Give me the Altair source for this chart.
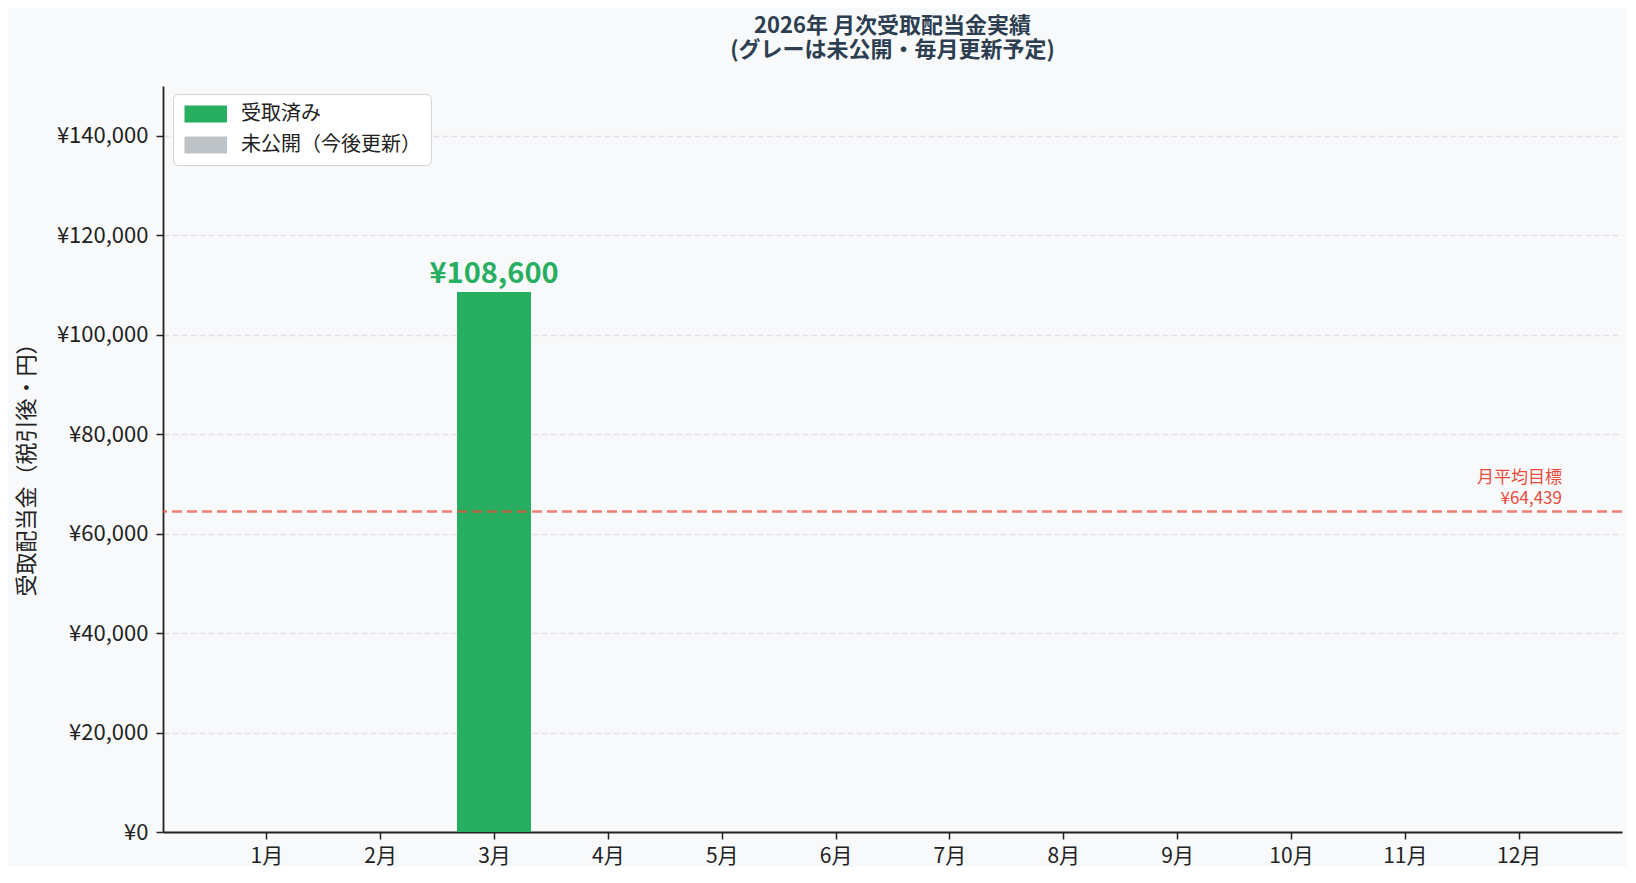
import altair as alt
import pandas as pd

# ---- data ----
months = list(range(1, 13))
amounts = [0, 0, 108600, 0, 0, 0, 0, 0, 0, 0, 0, 0]
status = ["受取済み", "受取済み", "受取済み",
          "未公開（今後更新）", "未公開（今後更新）", "未公開（今後更新）",
          "未公開（今後更新）", "未公開（今後更新）", "未公開（今後更新）",
          "未公開（今後更新）", "未公開（今後更新）", "未公開（今後更新）"]
status_domain = ["受取済み", "未公開（今後更新）"]
status_colors = ["#27ae60", "#bdc3c7"]
target_value = 64439
target_label = ["月平均目標", "¥64,439"]
target_label_x = 12.38
y_ticks = [0, 20000, 40000, 60000, 80000, 100000, 120000, 140000]

df = pd.DataFrame({"month": months, "amount": amounts, "status": status})
target_df = pd.DataFrame({"y": [target_value]})
label_df = pd.DataFrame({"x": [target_label_x], "y": [target_value], "t": ["\n".join(target_label)]})

FONT = "Noto Sans CJK JP"

xscale = alt.Scale(domain=[0.0925, 12.9075], nice=False, zero=False)
yscale = alt.Scale(domain=[0, 150000], nice=False)

base = alt.Chart(df)

bars = base.transform_calculate(
    x0="datum.month - 0.325", x1="datum.month + 0.325"
).mark_rect(opacity=1).encode(
    x=alt.X("x0:Q", scale=xscale,
            axis=alt.Axis(values=months, labelExpr="datum.value + '月'", grid=False,
                          tickSize=7, tickWidth=1.5, tickColor="#222222",
                          domainColor="#222222", domainWidth=1.8,
                          labelFontSize=21, labelColor="#222222", labelPadding=6,
                          title=None)),
    x2="x1:Q",
    y=alt.Y("amount:Q", scale=yscale,
            axis=alt.Axis(values=y_ticks, labelExpr="'¥' + format(datum.value, ',')",
                          grid=True, gridDash=[6, 3], gridColor="#e1e3e6", gridWidth=1.4,
                          tickSize=7, tickWidth=1.5, tickColor="#222222",
                          domainColor="#222222", domainWidth=1.8,
                          labelFontSize=22, labelColor="#222222", labelPadding=8,
                          title="受取配当金（税引後・円）", titleFontSize=22,
                          titleFontWeight="normal", titleColor="#222222",
                          titleAngle=270, titleX=-137, titleY=378,
                          titleAlign="center", titleBaseline="middle")),
    y2=alt.datum(0),
    color=alt.Color("status:N",
                    scale=alt.Scale(domain=status_domain, range=status_colors),
                    legend=alt.Legend(title=None, orient="none", legendX=10, legendY=8,
                                      fillColor="white", strokeColor="#d3d3d3",
                                      cornerRadius=5, padding=10,
                                      symbolType="M-1,-1L4,-1L4,1L-1,1Z",
                                      symbolSize=289, symbolStrokeWidth=0, symbolOpacity=1,
                                      labelFontSize=20, labelColor="#222222",
                                      labelOffset=38, rowPadding=11, labelLimit=400)),
)

value_labels = base.transform_filter("datum.amount > 0").transform_calculate(
    lbl="'¥' + format(datum.amount, ',')"
).mark_text(fontSize=29, fontWeight="bold", color="#27ae60", baseline="alphabetic",
            align="center", dy=-9).encode(
    x=alt.X("month:Q", scale=xscale),
    y=alt.Y("amount:Q", scale=yscale),
    text="lbl:N",
)

target_rule = alt.Chart(target_df).mark_rule(
    color="#e74c3c", opacity=0.7, strokeWidth=2.6, strokeDash=[10, 5]
).encode(y=alt.Y("y:Q", scale=yscale))

target_text = alt.Chart(label_df).mark_text(
    color="#e74c3c", fontSize=17, align="right", baseline="alphabetic",
    lineBreak="\n", lineHeight=21, dy=-29
).encode(
    x=alt.X("x:Q", scale=xscale),
    y=alt.Y("y:Q", scale=yscale),
    text="t:N",
)

chart = alt.layer(bars, value_labels, target_rule, target_text).properties(
    width=1459, height=746,
    title=alt.TitleParams(
        text=["2026年 月次受取配当金実績", "(グレーは未公開・毎月更新予定)"],
        fontSize=22, fontWeight="bold", color="#2c3e50", anchor="middle",
        lineHeight=24, offset=24, font=FONT),
    autosize=alt.AutoSizeParams(type="none"),
    padding={"left": 155, "top": 78, "right": 4, "bottom": 35},
    background="#f8f9fa",
).configure(font=FONT).configure_view(stroke=None)

chart.save("out.html", embed_options={"renderer": "svg", "actions": False})
